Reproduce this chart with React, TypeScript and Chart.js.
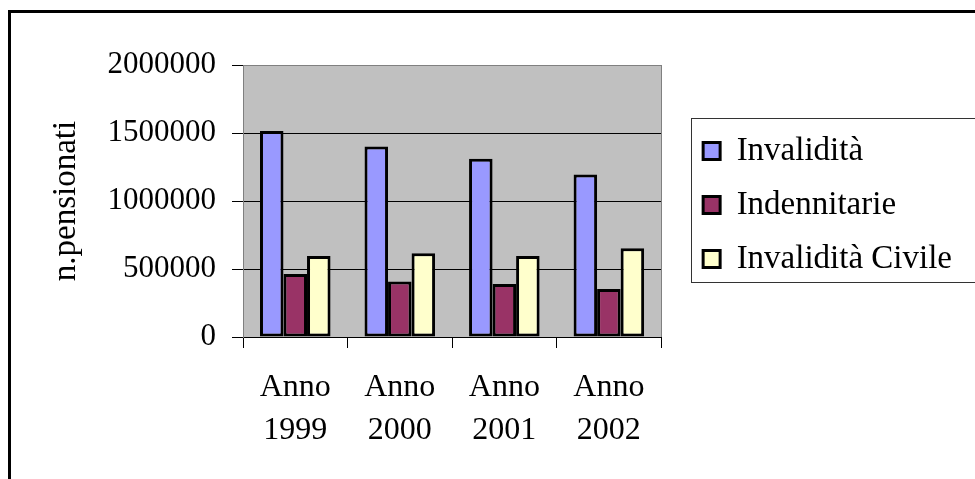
import React, { useEffect, useRef } from 'react';
import { Chart, registerables } from 'chart.js';

Chart.register(...registerables);

const categories = [
  ['Anno', '1999'],
  ['Anno', '2000'],
  ['Anno', '2001'],
  ['Anno', '2002'],
];
const seriesNames = ['Invalidità', 'Indennitarie', 'Invalidità Civile'];
const invalidita = [1515000, 1400000, 1310000, 1195000];
const indennitarie = [463000, 409000, 390000, 353000];
const invaliditaCivile = [595000, 615000, 595000, 652000];
const yTicks = [0, 500000, 1000000, 1500000, 2000000];
const seriesColors = ['#9999FF', '#993366', '#FFFFCC'];
const yTitle = 'n.pensionati';

const FAMILY = "'Liberation Serif', 'Times New Roman', serif";

const decor = {
  id: 'decor',
  afterLayout(chart: any) {
    const lg = chart.legend;
    if (lg) {
      lg.top += 4;
      lg.bottom += 4;
    }
  },
  beforeDraw(chart: any) {
    const { ctx, chartArea: a, width, height } = chart;
    ctx.save();
    ctx.fillStyle = '#ffffff';
    ctx.fillRect(0, 0, width, height);
    ctx.fillStyle = '#C0C0C0';
    ctx.fillRect(a.left, a.top, a.right - a.left, a.bottom - a.top);
    ctx.restore();
  },
  beforeDatasetsDraw(chart: any) {
    const { ctx, chartArea: a } = chart;
    ctx.save();
    ctx.strokeStyle = '#808080';
    ctx.lineWidth = 1;
    const x = Math.round(a.right) + 0.5;
    ctx.beginPath();
    ctx.moveTo(x, a.top);
    ctx.lineTo(x, a.bottom);
    ctx.stroke();
    ctx.restore();
  },
  afterDraw(chart: any) {
    const { ctx, width, height } = chart;
    ctx.save();
    ctx.fillStyle = '#000';
    ctx.fillRect(8, 10, width - 8, 3);
    ctx.fillRect(8, 10, 3, height - 10);
    const hb = chart.legend && chart.legend.legendHitBoxes;
    if (hb && hb.length) {
      const first = hb[0];
      const last = hb[hb.length - 1];
      const left = Math.round(first.left - 12) + 0.5;
      const top = Math.round(first.top - 17) + 0.5;
      const bottom = Math.round(last.top + last.height + 6) + 0.5;
      ctx.strokeStyle = '#333';
      ctx.lineWidth = 1;
      ctx.strokeRect(left, top, width + 10 - left, bottom - top);
    }
    ctx.restore();
  },
};

export default function App() {
  const ref = useRef<HTMLCanvasElement>(null);
  useEffect(() => {
    if (!ref.current) return;
    const values = [invalidita, indennitarie, invaliditaCivile];
    const chart = new Chart(ref.current, {
      type: 'bar',
      data: {
        labels: categories,
        datasets: seriesNames.map((name, i) => ({
          label: name,
          data: values[i],
          backgroundColor: seriesColors[i],
          borderColor: '#000',
          borderWidth: 3,
          borderSkipped: false,
          barPercentage: 1,
          categoryPercentage: 0.675,
        })),
      },
      options: {
        animation: false,
        responsive: true,
        maintainAspectRatio: false,
        layout: { padding: { left: 40, top: 65, right: 13, bottom: 0 } },
        plugins: {
          legend: {
            position: 'right',
            fullSize: false,
            align: 'center',
            maxWidth: 320,
            labels: {
              boxWidth: 17,
              boxHeight: 17,
              padding: 21,
              color: '#000',
              font: { family: FAMILY, size: 33 },
            },
          },
          tooltip: { enabled: false },
        },
        scales: {
          x: {
            grid: {
              offset: true,
              drawOnChartArea: false,
              tickLength: 11,
              color: '#000',
              tickColor: '#000',
            },
            border: { color: '#000', width: 1 },
            ticks: {
              padding: 18,
              color: '#000',
              maxRotation: 0,
              autoSkip: false,
              font: { family: FAMILY, size: 32, lineHeight: 1.34 },
            },
            afterFit: (s: any) => {
              s.height = 142;
            },
          },
          y: {
            min: 0,
            max: 2000000,
            afterBuildTicks: (s: any) => {
              s.ticks = yTicks.map((v) => ({ value: v }));
            },
            grid: {
              color: (c: any) => (c.tick && c.tick.value === 2000000 ? '#808080' : '#000'),
              tickColor: '#000',
              tickLength: 11,
            },
            border: { color: '#808080', width: 1 },
            ticks: {
              padding: 16,
              color: '#000',
              font: { family: FAMILY, size: 31 },
              callback: (v: any) => String(v),
            },
            title: {
              display: true,
              text: yTitle,
              color: '#000',
              font: { family: FAMILY, size: 33 },
              padding: { top: 7, bottom: 0 },
            },
            afterFit: (s: any) => {
              s.width = 203;
            },
          },
          gap: {
            type: 'linear',
            position: 'right',
            display: true,
            grid: { display: false },
            ticks: { display: false },
            border: { display: false },
            afterFit: (s: any) => {
              s.width = 21;
            },
          },
        },
      } as any,
      plugins: [decor],
    });
    return () => chart.destroy();
  }, []);
  return (
    <div style={{ position: 'absolute', left: 0, top: 0, width: 975, height: 479 }}>
      <canvas ref={ref} />
    </div>
  );
}
